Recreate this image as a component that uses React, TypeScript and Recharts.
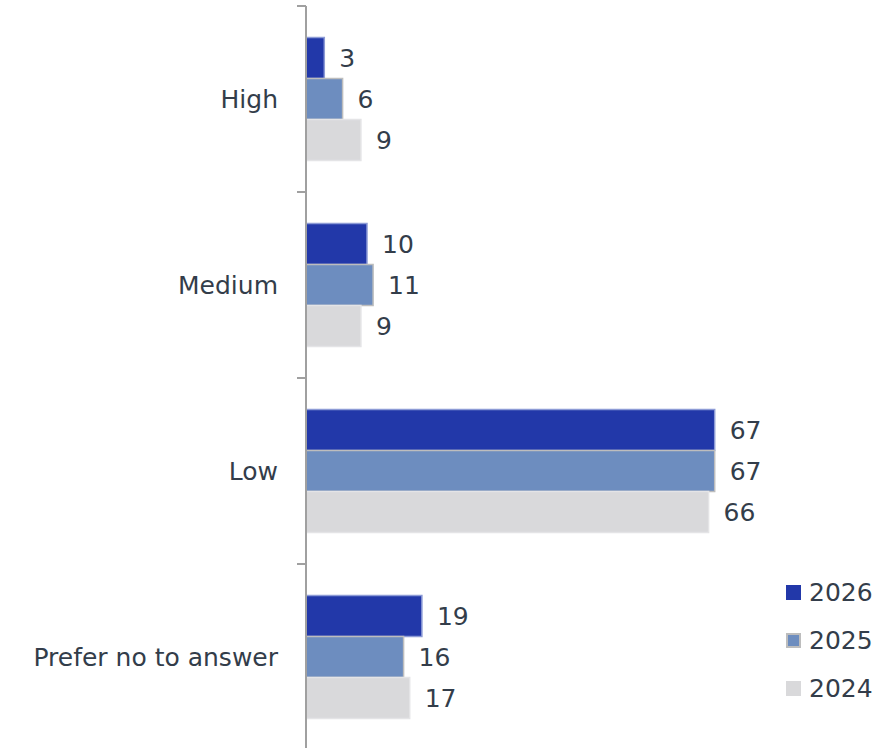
import { BarChart, Bar, XAxis, YAxis, LabelList } from "recharts";

const CATEGORIES = ["High", "Medium", "Low", "Prefer no to answer"];
const Y2026 = [3, 10, 67, 19];
const Y2025 = [6, 11, 67, 16];
const Y2024 = [9, 9, 66, 17];

const SERIES = [
  { key: "2026", fill: "#2238A9", stroke: "#8d9bd6" },
  { key: "2025", fill: "#6D8DBF", stroke: "#bdbdbd" },
  { key: "2024", fill: "#D9D9DB", stroke: "#e4e4e6" },
];

const data = CATEGORIES.map((name, i) => ({
  name,
  "2026": Y2026[i],
  "2025": Y2025[i],
  "2024": Y2024[i],
}));

const FONT = "'DejaVu Sans', Verdana, sans-serif";
const TEXT = "#333d4a";
const AXIS_X = 306;
const BAND = 186;

// category label plus the small marks that sit on band boundaries
function CategoryTick(props: any) {
  const { y, payload, index } = props;
  const top = y - BAND / 2;
  return (
    <g>
      <line x1={AXIS_X - 9} x2={AXIS_X} y1={top} y2={top} stroke="#a0a0a0" strokeWidth={2} />
      {index === CATEGORIES.length - 1 && (
        <line x1={AXIS_X - 9} x2={AXIS_X} y1={top + BAND} y2={top + BAND} stroke="#a0a0a0" strokeWidth={2} />
      )}
      <text
        x={AXIS_X - 28}
        y={y}
        textAnchor="end"
        dominantBaseline="central"
        fill={TEXT}
        fontSize={25}
        fontFamily={FONT}
      >
        {payload.value}
      </text>
    </g>
  );
}

function LegendBox() {
  return (
    <div
      style={{
        position: "absolute",
        left: 786,
        top: 568,
        fontFamily: FONT,
        fontSize: 25,
        color: TEXT,
      }}
    >
      {SERIES.map((s) => (
        <div key={s.key} style={{ display: "flex", alignItems: "center", height: 48 }}>
          <span
            style={{
              display: "inline-block",
              width: 15,
              height: 15,
              background: s.fill,
              border: s.key === "2025" ? "2px solid #bdbdbd" : "none",
              marginRight: 8,
              boxSizing: "border-box",
            }}
          />
          <span>{s.key}</span>
        </div>
      ))}
    </div>
  );
}

export default function App() {
  return (
    <div
      style={{
        position: "absolute",
        left: 0,
        top: 0,
        width: 892,
        height: 748,
        overflow: "hidden",
        background: "#fff",
      }}
    >
      <BarChart
        width={892}
        height={752}
        data={data}
        layout="vertical"
        margin={{ top: 6, right: 98, bottom: 2, left: 0 }}
        barCategoryGap="17%"
        barGap={0}
      >
        <XAxis type="number" domain={[0, 80]} hide />
        <YAxis
          type="category"
          dataKey="name"
          width={AXIS_X}
          axisLine={{ stroke: "#a0a0a0", strokeWidth: 2 }}
          tickLine={false}
          tick={<CategoryTick />}
          interval={0}
        />
        {SERIES.map((s) => (
          <Bar
            key={s.key}
            dataKey={s.key}
            fill={s.fill}
            stroke={s.stroke}
            strokeWidth={1.5}
            isAnimationActive={false}
          >
            <LabelList
              dataKey={s.key}
              position="right"
              offset={15}
              fill={TEXT}
              fontSize={25}
              fontFamily={FONT}
            />
          </Bar>
        ))}
      </BarChart>
      <LegendBox />
    </div>
  );
}
